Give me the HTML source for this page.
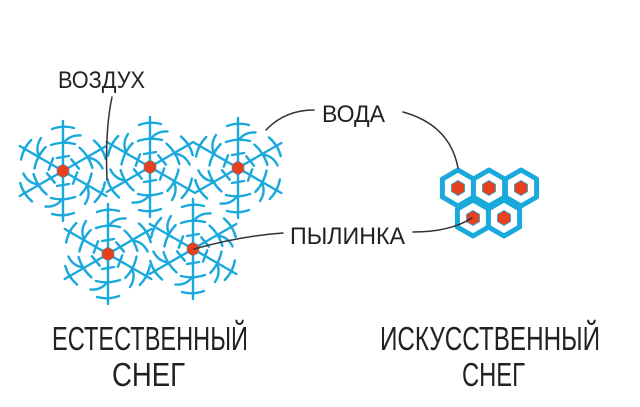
<!DOCTYPE html>
<html><head><meta charset="utf-8"><style>
html,body{margin:0;padding:0;background:#fff}
svg{display:block}
text{font-family:"Liberation Sans Narrow","Liberation Sans",sans-serif;fill:#222}
</style></head><body>
<svg width="640" height="407" viewBox="0 0 640 407" xmlns="http://www.w3.org/2000/svg">
<defs>
<g id="arm" fill="none" stroke="#1aa9dc" stroke-width="2.4" stroke-linecap="round">
  <path d="M0,-6 L0,-50"/>
  <path d="M-6,-13 L6,-15"/>
  <path d="M-12,-26 Q0,-30 12,-27"/>
  <path d="M-11,-42 Q0,-46 11,-43"/>
  <path d="M-24,-15 Q-28,-24 -22,-33"/>
</g>
<g id="flake">
  <use href="#arm"/>
  <use href="#arm" transform="rotate(60)"/>
  <use href="#arm" transform="rotate(120)"/>
  <use href="#arm" transform="rotate(180)"/>
  <use href="#arm" transform="rotate(240)"/>
  <use href="#arm" transform="rotate(300)"/>
  <polygon points="0,-7 6,-3.5 6,3.5 0,7 -6,3.5 -6,-3.5" fill="#e8401c" stroke="#1aa9dc" stroke-width="0.6"/>
</g>
<g id="hex">
  <polygon points="0,-18 15.6,-9 15.6,9 0,18 -15.6,9 -15.6,-9" fill="#fff" stroke="#1aa9dc" stroke-width="5" stroke-linejoin="round"/>
  <polygon points="0,-7.5 6.5,-3.7 6.5,3.7 0,7.5 -6.5,3.7 -6.5,-3.7" fill="#e8401c" stroke="#1aa9dc" stroke-width="0.8"/>
</g>
</defs>

<use href="#flake" transform="translate(63,171)"/>
<use href="#flake" transform="translate(150,167)"/>
<use href="#flake" transform="translate(238,168)"/>
<use href="#flake" transform="translate(108,254)"/>
<use href="#flake" transform="translate(193,249)"/>

<use href="#hex" transform="translate(458,188)"/>
<use href="#hex" transform="translate(489,188)"/>
<use href="#hex" transform="translate(521,188)"/>
<use href="#hex" transform="translate(473,218)"/>
<use href="#hex" transform="translate(504,218)"/>

<g fill="none" stroke="#333" stroke-width="1.5" stroke-linecap="round">
  <path d="M112,97 Q105,130 107,180"/>
  <path d="M314,110 Q285,110 266,130"/>
  <path d="M403,112 Q450,125 458,168"/>
  <path d="M283,233 Q240,236 194,249"/>
  <path d="M413,232 Q450,232 472,218"/>
</g>

<text x="58" y="88" font-size="24" textLength="87" lengthAdjust="spacingAndGlyphs">ВОЗДУХ</text>
<text x="322" y="122" font-size="24" textLength="63" lengthAdjust="spacingAndGlyphs">ВОДА</text>
<text x="290" y="244" font-size="24" textLength="115" lengthAdjust="spacingAndGlyphs">ПЫЛИНКА</text>
<text x="52" y="350" font-size="33" textLength="196" lengthAdjust="spacingAndGlyphs">ЕСТЕСТВЕННЫЙ</text>
<text x="112" y="386" font-size="33" textLength="73" lengthAdjust="spacingAndGlyphs">СНЕГ</text>
<text x="380" y="350" font-size="33" textLength="220" lengthAdjust="spacingAndGlyphs">ИСКУССТВЕННЫЙ</text>
<text x="462" y="386" font-size="33" textLength="63" lengthAdjust="spacingAndGlyphs">СНЕГ</text>
</svg>
</body></html>
